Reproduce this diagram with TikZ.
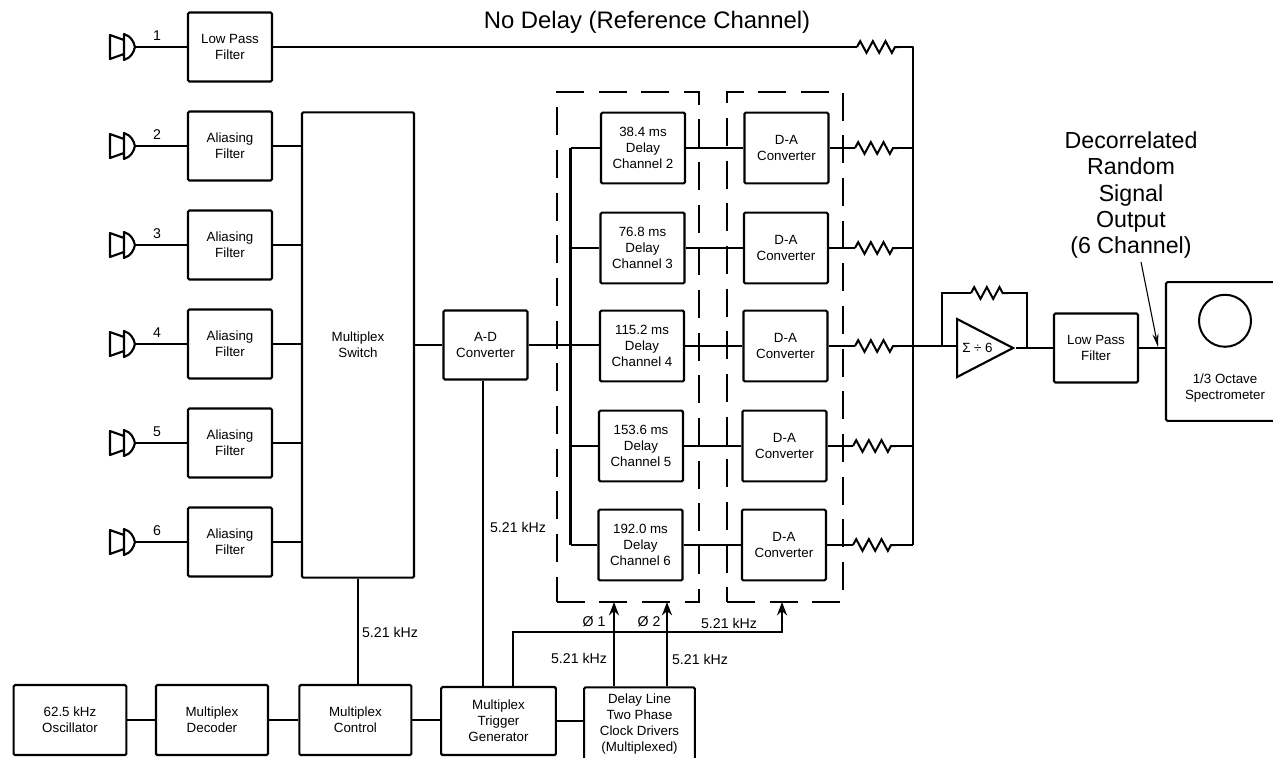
\documentclass[tikz,border=0pt]{standalone}
\usepackage{fontspec}
\setmainfont{Liberation Sans}
\usetikzlibrary{
  arrows.meta, shapes.geometric,
  positioning, calc,
  decorations.pathmorphing
}
\tikzset{
  block/.style={
    rectangle, draw=black, line width=1.6pt, rounded corners=1pt,
    inner sep=0pt, align=center,
    font=\fontsize{10}{12}\selectfont
  },
  filterbox/.style={block, minimum width=63pt, minimum height=51.75pt},
  delaybox/.style={block, minimum width=63pt, minimum height=53pt},
  ctrlbox/.style={block, minimum width=84.5pt, minimum height=52.5pt},
  bank/.style={
    rectangle, draw=black, line width=1.5pt,
    dash pattern=on 21pt off 11pt,
    minimum width=#1, minimum height=382.5pt, inner sep=0pt
  },
  wire/.style={line width=1.8pt, draw=black},
  arrow/.style={-{Stealth[length=10pt,width=7.5pt]}, line width=1.8pt, draw=black},
  resistor/.style={
    line width=1.5pt, draw=black,
    decorate, decoration={zigzag, amplitude=4.4pt, segment length=9.5pt}
  },
  tag/.style={inner sep=0pt, font=\fontsize{10.6}{12}\selectfont},
  heading/.style={inner sep=0pt, align=center, font=\fontsize{17.4}{19.6}\selectfont},
  mic/.pic={
    \draw[line width=1.6pt, line join=round]
      (-25,-12) -- (-11,-7) -- (-11,7) -- (-25,12) -- cycle
      (-11,-13) .. controls (-4,-11) and (-1,-5) .. (0,0)
      .. controls (-1,5) and (-4,11) .. (-11,13) -- cycle;
  }
}
\begin{document}
\begin{tikzpicture}[x=0.75pt, y=-0.75pt]
  \useasboundingbox (0,0) rectangle (1273,757);

  \node[heading, font=\fontsize{17.9}{20}\selectfont] (title) at (647,22) {No Delay (Reference Channel)};

  \node[filterbox] (lowpass) at (230,47) {Low Pass\\Filter};
  \node[filterbox] (alias2) at (230,146) {Aliasing\\Filter};
  \node[filterbox, below=20.9pt of alias2] (alias3) {Aliasing\\Filter};
  \node[filterbox, below=20.9pt of alias3] (alias4) {Aliasing\\Filter};
  \node[filterbox, below=20.9pt of alias4] (alias5) {Aliasing\\Filter};
  \node[filterbox, below=20.9pt of alias5] (alias6) {Aliasing\\Filter};

  \coordinate[left=39pt of lowpass] (mic1);
  \coordinate[left=39pt of alias2] (mic2);
  \coordinate[left=39pt of alias3] (mic3);
  \coordinate[left=39pt of alias4] (mic4);
  \coordinate[left=39pt of alias5] (mic5);
  \coordinate[left=39pt of alias6] (mic6);
  \pic at (mic1) {mic};
  \pic at (mic2) {mic};
  \pic at (mic3) {mic};
  \pic at (mic4) {mic};
  \pic at (mic5) {mic};
  \pic at (mic6) {mic};
  \node[tag, above right=4.5pt and 13.5pt of mic1] (num1) {1};
  \node[tag, above right=4.5pt and 13.5pt of mic2] (num2) {2};
  \node[tag, above right=4.5pt and 13.5pt of mic3] (num3) {3};
  \node[tag, above right=4.5pt and 13.5pt of mic4] (num4) {4};
  \node[tag, above right=4.5pt and 13.5pt of mic5] (num5) {5};
  \node[tag, above right=4.5pt and 13.5pt of mic6] (num6) {6};

  \node[block, minimum width=84pt, minimum height=349pt] (mux) at (358,345) {Multiplex\\Switch};
  \node[filterbox] (adc) at (485.5,345) {A-D\\Converter};

  \node[bank=107pt] (delaybank) at (628,347) {};
  \node[bank=87pt] (dabank) at (785,347) {};

  \node[delaybox] (delay2) at (643,148) {38.4 ms\\Delay\\Channel 2};
  \node[delaybox] (delay3) at (642.5,248) {76.8 ms\\Delay\\Channel 3};
  \node[delaybox] (delay4) at (642,346) {115.2 ms\\Delay\\Channel 4};
  \node[delaybox] (delay5) at (641,446) {153.6 ms\\Delay\\Channel 5};
  \node[delaybox] (delay6) at (640.5,545) {192.0 ms\\Delay\\Channel 6};

  \node[delaybox, right=43pt of delay2] (da2) {D-A\\Converter};
  \node[delaybox, right=43pt of delay3] (da3) {D-A\\Converter};
  \node[delaybox, right=43pt of delay4] (da4) {D-A\\Converter};
  \node[delaybox, right=43pt of delay5] (da5) {D-A\\Converter};
  \node[delaybox, right=43pt of delay6] (da6) {D-A\\Converter};

  \coordinate (bustop) at (913,47);
  \coordinate (busbot) at (913,545);
  \coordinate (tap) at (570.5,148);
  \coordinate (tapbot) at (570.5,545);
  \coordinate (res1a) at (857,47);
  \coordinate (res1b) at (900,47);
  \coordinate (res2a) at (855,148);
  \coordinate (res2b) at (898,148);
  \coordinate (res3a) at (855,248);
  \coordinate (res3b) at (898,248);
  \coordinate (res4a) at (855,346);
  \coordinate (res4b) at (898,346);
  \coordinate (res5a) at (853,446);
  \coordinate (res5b) at (896,446);
  \coordinate (res6a) at (853,545);
  \coordinate (res6b) at (896,545);

  \node[isosceles triangle, isosceles triangle stretches, shape border rotate=0,
    draw=black, line width=1.6pt, inner sep=0pt, minimum width=43.5pt, minimum height=42pt,
    anchor=lower side, font=\fontsize{10}{12}\selectfont] (amp) at (956,348) {Σ ÷ 6};
  \coordinate (fbleft) at (942,346);
  \coordinate (fbright) at (1027,348);
  \coordinate (fbtopl) at (942,293);
  \coordinate (fbtopr) at (1027,293);
  \coordinate (res7a) at (971,293);
  \coordinate (res7b) at (1008,293);

  \node[filterbox] (outfilter) at (1096,348) {Low Pass\\Filter};
  \node[block, minimum width=88.5pt, minimum height=104pt] (spectro) at (1225,351.5) {};
  \node[draw=black, circle, line width=1.5pt, minimum size=39pt, inner sep=0pt, below=9.5pt of spectro.north] (dial) {};
  \node[inner sep=0pt, align=center, font=\fontsize{10}{12}\selectfont] (spectext) at (1225,388) {1/3 Octave\\Spectrometer};
  \node[heading] (output) at (1131,195) {Decorrelated\\Random\\Signal\\Output\\(6 Channel)};
  \coordinate (outtip) at (1158,347);

  \node[ctrlbox] (osc) at (70,720) {62.5 kHz\\Oscillator};
  \node[ctrlbox, minimum width=84pt, right=20.6pt of osc] (decoder) {Multiplex\\Decoder};
  \node[ctrlbox, minimum width=84pt, right=22pt of decoder] (control) {Multiplex\\Control};
  \node[ctrlbox, minimum width=86pt, minimum height=51pt] (trigger) at (498.5,721) {Multiplex\\Trigger\\Generator};
  \node[ctrlbox, minimum width=83pt, minimum height=55pt] (clock) at (639.5,724) {Delay Line\\Two Phase\\Clock Drivers\\(Multiplexed)};

  \coordinate (adctap) at (483,400);
  \coordinate (phi1) at (614,602);
  \coordinate (phi2) at (667,602);
  \coordinate (dain) at (782,602);
  \coordinate (trigup) at (513,632);
  \coordinate (trigright) at (782,632);

  \node[tag] (freqmux) at (390,632) {5.21 kHz};
  \node[tag] (freqadc) at (518,527) {5.21 kHz};
  \node[tag] (phase1) at (594,622) {Ø 1};
  \node[tag] (phase2) at (649,622) {Ø 2};
  \node[tag] (freqda) at (729,623) {5.21 kHz};
  \node[tag] (freqphi1) at (579,658) {5.21 kHz};
  \node[tag] (freqphi2) at (700,659) {5.21 kHz};

  \draw[wire] (mic1) -- (lowpass);
  \draw[wire] (mic2) -- (alias2);
  \draw[wire] (mic3) -- (alias3);
  \draw[wire] (mic4) -- (alias4);
  \draw[wire] (mic5) -- (alias5);
  \draw[wire] (mic6) -- (alias6);
  \draw[wire] (lowpass) -- (res1a);
  \draw[resistor] (res1a) -- (res1b);
  \draw[wire, line join=round] (res1b) -- (bustop) -- (busbot);
  \draw[wire] (alias2) -- (alias2 -| mux.west);
  \draw[wire] (alias3) -- (alias3 -| mux.west);
  \draw[wire] (alias4) -- (alias4 -| mux.west);
  \draw[wire] (alias5) -- (alias5 -| mux.west);
  \draw[wire] (alias6) -- (alias6 -| mux.west);
  \draw[wire] (mux) -- (adc);
  \draw[wire] (adc) -- (adc -| delay4.west);
  \draw[wire] (tap) -- (tapbot);
  \draw[wire] (tap) -- (delay2);
  \draw[wire] (tap |- delay3) -- (delay3);
  \draw[wire] (tap |- delay5) -- (delay5);
  \draw[wire] (tapbot) -- (delay6);

  \draw[wire] (delay2) -- (da2);
  \draw[wire] (delay3) -- (da3);
  \draw[wire] (delay4) -- (da4);
  \draw[wire] (delay5) -- (da5);
  \draw[wire] (delay6) -- (da6);
  \draw[wire] (da2) -- (res2a);
  \draw[wire] (da3) -- (res3a);
  \draw[wire] (da4) -- (res4a);
  \draw[wire] (da5) -- (res5a);
  \draw[wire] (da6) -- (res6a);
  \draw[resistor] (res2a) -- (res2b);
  \draw[resistor] (res3a) -- (res3b);
  \draw[resistor] (res4a) -- (res4b);
  \draw[resistor] (res5a) -- (res5b);
  \draw[resistor] (res6a) -- (res6b);
  \draw[wire] (res2b) -- (res2b -| bustop);
  \draw[wire] (res3b) -- (res3b -| bustop);
  \draw[wire] (res4b) -- (res4b -| amp.lower side);
  \draw[wire] (res5b) -- (res5b -| bustop);
  \draw[wire] (res6b) -- (busbot);

  \draw[wire] (fbleft) -- (fbtopl) -- (res7a);
  \draw[resistor] (res7a) -- (res7b);
  \draw[wire] (res7b) -- (fbtopr) -- (fbright);
  \draw[wire] (amp.apex) -- (outfilter);
  \draw[wire] (outfilter) -- (outfilter -| spectro.west);
  \draw[-{Stealth[length=10pt,width=4.5pt]}, line width=0.8pt] (1141,262) -- (outtip);

  \draw[wire] (mux) -- (mux |- control.north);
  \draw[wire] (osc) -- (decoder);
  \draw[wire] (decoder) -- (control);
  \draw[wire] (control) -- (control -| trigger.west);
  \draw[wire] (trigger) -- (trigger -| clock.west);
  \draw[wire] (adctap |- adc.south) -- (adctap |- trigger.north);
  \draw[arrow] (trigup |- trigger.north) -- (trigup) -- (trigright) -- (dain);
  \draw[arrow] (phi1 |- clock.north) -- (phi1);
  \draw[arrow] (phi2 |- clock.north) -- (phi2);
\end{tikzpicture}
\end{document}
